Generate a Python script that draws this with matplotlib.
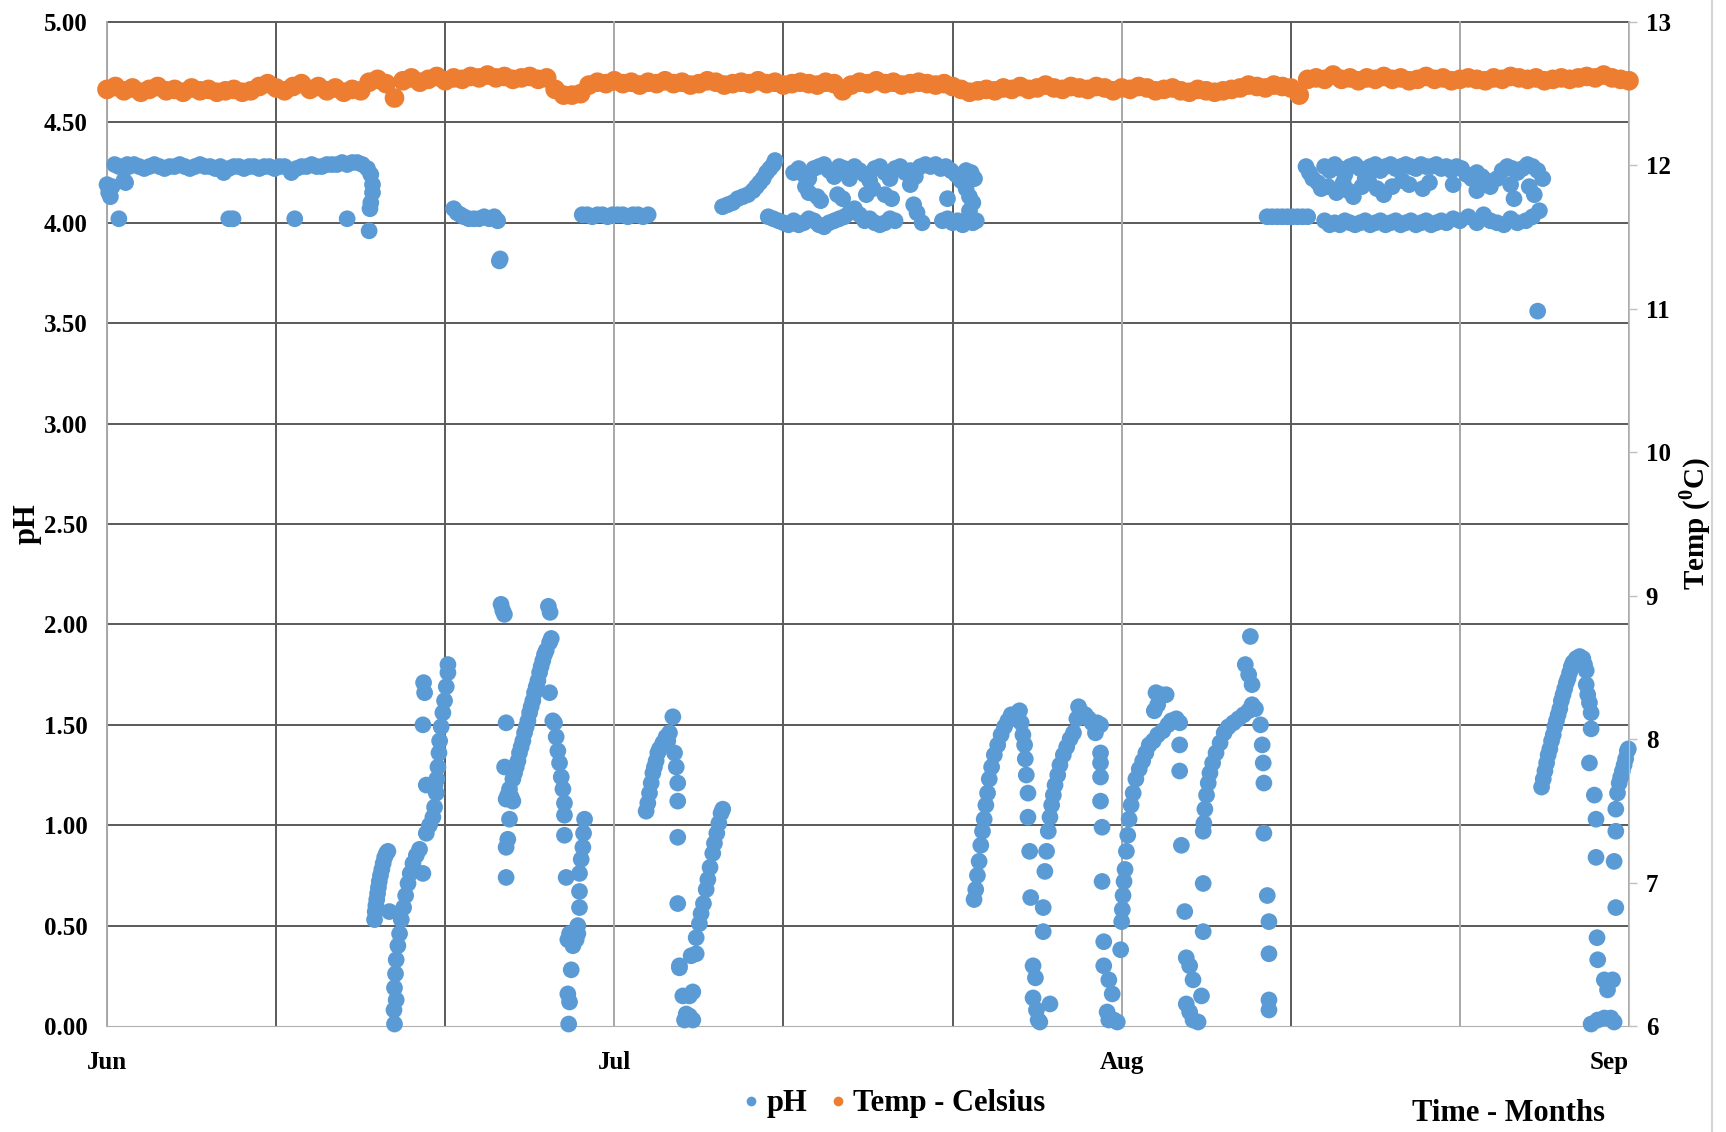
import numpy as np
import matplotlib
matplotlib.use('Agg')
import matplotlib.pyplot as plt
from matplotlib.lines import Line2D

plt.rcParams['font.family'] = ['Liberation Serif', 'DejaVu Serif']
plt.rcParams['font.weight'] = 'bold'
plt.rcParams['mathtext.fontset'] = 'custom'
plt.rcParams['mathtext.rm'] = 'Liberation Serif:bold'
plt.rcParams['mathtext.bf'] = 'Liberation Serif:bold'

# x axis: days since 1 June
month_days = [0, 30, 60, 90]
month_labels = ['Jun', 'Jul', 'Aug', 'Sep']

# temperature logger, one reading every half day
temp_step_days = 0.5
temp_c = [
    12.53, 12.55, 12.52, 12.54, 12.51, 12.53, 12.55, 12.52, 12.53, 12.51,
    12.54, 12.52, 12.53, 12.51, 12.52, 12.53, 12.51, 12.52, 12.55, 12.57,
    12.54, 12.52, 12.55, 12.57, 12.53, 12.55, 12.52, 12.54, 12.51, 12.53,
    12.52,
    12.58, 12.60, 12.57, 12.47, 12.59, 12.61, 12.58, 12.60, 12.62, 12.59,
    12.61, 12.60, 12.62, 12.61, 12.63, 12.61, 12.62, 12.60, 12.61, 12.62,
    12.60, 12.61, 12.53, 12.49, 12.49, 12.50,
    12.56, 12.58, 12.57, 12.59, 12.57, 12.58, 12.56, 12.58, 12.57, 12.59,
    12.57, 12.58, 12.56, 12.57, 12.59, 12.58, 12.56, 12.57, 12.58, 12.57,
    12.59, 12.57, 12.58, 12.56, 12.57, 12.58, 12.57, 12.56, 12.58, 12.57,
    12.52, 12.56, 12.58, 12.57, 12.59, 12.57, 12.58, 12.56, 12.57, 12.58,
    12.57, 12.56, 12.57, 12.55, 12.53,
    12.51, 12.52, 12.53, 12.52, 12.54, 12.53, 12.55, 12.53, 12.54, 12.56,
    12.54, 12.53, 12.55, 12.54, 12.53, 12.55, 12.54, 12.52, 12.54, 12.53,
    12.55, 12.54, 12.52, 12.53, 12.54, 12.52, 12.51, 12.53, 12.52, 12.51,
    12.52, 12.53, 12.54, 12.56, 12.55, 12.54, 12.56, 12.55, 12.54, 12.49,
    12.60, 12.61, 12.60, 12.63, 12.60, 12.61, 12.59, 12.61, 12.60, 12.62,
    12.60, 12.61, 12.59, 12.60, 12.62, 12.60, 12.61, 12.59, 12.60, 12.61,
    12.60, 12.59, 12.61, 12.60, 12.62, 12.61, 12.60, 12.61, 12.59, 12.60,
    12.61, 12.60, 12.61, 12.62, 12.61, 12.63, 12.61, 12.60, 12.59,
]

# pH readings as (day, pH), grouped by stretch
ph_high_jun = [
    (0.0, 4.19), (0.1, 4.15), (0.2, 4.13), (0.3, 4.18), (0.45, 4.29), (0.7, 4.28),
    (1.0, 4.21), (1.1, 4.20), (1.0, 4.28), (1.2, 4.29), (1.3, 4.28), (1.6, 4.29),
    (1.9, 4.28), (2.2, 4.27), (2.5, 4.28), (2.8, 4.29), (3.1, 4.28), (3.4, 4.27),
    (3.7, 4.28), (4.0, 4.28), (4.3, 4.29), (4.6, 4.28), (4.9, 4.27), (5.2, 4.28),
    (5.5, 4.29), (5.8, 4.28), (6.1, 4.28), (6.4, 4.27), (6.7, 4.28), (6.9, 4.25),
    (7.2, 4.27), (7.5, 4.28), (7.8, 4.28), (8.1, 4.27), (8.4, 4.28), (8.7, 4.28),
    (9.0, 4.27), (9.3, 4.28), (9.6, 4.28), (9.9, 4.27), (10.2, 4.28), (10.5, 4.28),
    (10.9, 4.25), (11.2, 4.27), (11.5, 4.28), (11.8, 4.28), (12.1, 4.29), (12.4, 4.28),
    (12.7, 4.28), (13.0, 4.29), (13.3, 4.29), (13.6, 4.29), (13.9, 4.30), (14.2, 4.29),
    (14.5, 4.30), (14.8, 4.30), (15.1, 4.29), (15.4, 4.27),
    (15.6, 4.24), (15.7, 4.19), (15.7, 4.15), (15.6, 4.10), (15.55, 4.07), (15.5, 3.96),
    (0.7, 4.02), (7.2, 4.02), (7.45, 4.02), (11.1, 4.02), (14.2, 4.02),
    (20.5, 4.07), (20.7, 4.05), (20.9, 4.04), (21.1, 4.03), (21.4, 4.02), (21.7, 4.02),
    (22.0, 4.02), (22.3, 4.03), (22.6, 4.02), (22.9, 4.03), (23.1, 4.01),
    (23.2, 3.81), (23.25, 3.82),
    (28.1, 4.04), (28.4, 4.04), (28.7, 4.03), (29.0, 4.04), (29.3, 4.04), (29.6, 4.03),
    (29.9, 4.04), (30.2, 4.04), (30.5, 4.04), (30.8, 4.03), (31.1, 4.04), (31.4, 4.04),
    (31.7, 4.03), (32.0, 4.04),
]

ph_high_jul = [
    (36.4, 4.08), (36.7, 4.09), (37.0, 4.10), (37.3, 4.12), (37.6, 4.13), (37.9, 4.14),
    (38.2, 4.16), (38.4, 4.18), (38.6, 4.20), (38.8, 4.22), (39.0, 4.25), (39.2, 4.27),
    (39.4, 4.29), (39.5, 4.31),
    (40.6, 4.25), (40.9, 4.27), (41.2, 4.24), (41.5, 4.22), (41.8, 4.27), (42.1, 4.28),
    (42.4, 4.29), (42.7, 4.26), (43.0, 4.23), (43.3, 4.28), (43.6, 4.27), (43.9, 4.22),
    (44.2, 4.28), (44.5, 4.26), (44.8, 4.24), (45.1, 4.21), (45.4, 4.27), (45.7, 4.28),
    (46.0, 4.25), (46.3, 4.22), (46.6, 4.27), (46.9, 4.28), (47.2, 4.25), (47.5, 4.26),
    (47.8, 4.23), (48.1, 4.28), (48.4, 4.29), (48.7, 4.28), (49.0, 4.29), (49.3, 4.27),
    (49.6, 4.28), (49.9, 4.26), (50.2, 4.24), (50.5, 4.21), (50.8, 4.26), (51.1, 4.25),
    (51.3, 4.22),
    (41.3, 4.18), (41.5, 4.15), (42.0, 4.13), (42.2, 4.11), (43.2, 4.14), (43.5, 4.12),
    (44.9, 4.14), (45.3, 4.17), (46.0, 4.14), (46.4, 4.12), (47.5, 4.19), (49.7, 4.12),
    (50.8, 4.17), (51.0, 4.13), (51.2, 4.10), (51.0, 4.06),
    (39.1, 4.03), (39.4, 4.02), (39.7, 4.01), (40.0, 4.00), (40.3, 3.99), (40.6, 4.01),
    (40.9, 3.99), (41.2, 4.00), (41.5, 4.02), (41.8, 4.01), (42.1, 3.99), (42.4, 3.98),
    (42.7, 4.00), (43.0, 4.01), (43.3, 4.02), (43.6, 4.03), (43.9, 4.05), (44.2, 4.07),
    (44.5, 4.04), (44.8, 4.01), (45.1, 4.02), (45.4, 4.00), (45.7, 3.99), (46.0, 4.00),
    (46.3, 4.02), (46.6, 4.01), (47.7, 4.09), (47.9, 4.05), (48.2, 4.00),
    (49.4, 4.01), (49.7, 4.02), (50.0, 4.00), (50.3, 4.01), (50.6, 3.99), (50.9, 4.02),
    (51.2, 4.00), (51.4, 4.01),
]

ph_high_aug = [
    (68.6, 4.03), (68.9, 4.03), (69.2, 4.03), (69.5, 4.03), (69.8, 4.03), (70.1, 4.03),
    (70.4, 4.03), (70.7, 4.03), (71.0, 4.03),
    (70.9, 4.28), (71.1, 4.25), (71.3, 4.22), (71.6, 4.20), (71.8, 4.17),
    (72.0, 4.28), (72.3, 4.26), (72.6, 4.29), (72.9, 4.27), (73.2, 4.24), (73.5, 4.28),
    (73.8, 4.29), (74.1, 4.27), (74.4, 4.22), (74.7, 4.28), (75.0, 4.29), (75.3, 4.26),
    (75.6, 4.28), (75.9, 4.29), (76.2, 4.27), (76.5, 4.28), (76.8, 4.29), (77.1, 4.28),
    (77.4, 4.27), (77.7, 4.29), (78.0, 4.28), (78.3, 4.28), (78.6, 4.29), (78.9, 4.27),
    (79.2, 4.28), (79.5, 4.26), (79.8, 4.28), (80.1, 4.27), (80.4, 4.24), (80.7, 4.22),
    (81.0, 4.25), (81.3, 4.23), (81.6, 4.21), (82.2, 4.22), (82.5, 4.26), (82.8, 4.28),
    (83.1, 4.27), (83.4, 4.25), (83.7, 4.27), (84.0, 4.29), (84.3, 4.28), (84.6, 4.26),
    (84.9, 4.22),
    (72.2, 4.18), (72.7, 4.15), (73.1, 4.20), (73.4, 4.16), (73.7, 4.13), (74.2, 4.18),
    (74.6, 4.21), (75.1, 4.17), (75.5, 4.14), (76.0, 4.18), (76.6, 4.21), (77.0, 4.19),
    (77.8, 4.17), (78.2, 4.20), (79.6, 4.19), (81.0, 4.16), (81.8, 4.18), (83.0, 4.19),
    (83.2, 4.12), (84.1, 4.18), (84.4, 4.14),
    (72.0, 4.01), (72.3, 3.99), (72.6, 4.00), (72.9, 3.99), (73.2, 4.01), (73.5, 4.00),
    (73.8, 3.99), (74.1, 4.00), (74.4, 4.01), (74.7, 3.99), (75.0, 4.00), (75.3, 4.01),
    (75.6, 3.99), (75.9, 4.00), (76.2, 4.01), (76.5, 3.99), (76.8, 4.00), (77.1, 4.01),
    (77.4, 3.99), (77.7, 4.00), (78.0, 4.01), (78.3, 3.99), (78.6, 4.00), (78.9, 4.01),
    (79.2, 4.00), (79.6, 4.02), (80.0, 4.01), (80.5, 4.03), (81.0, 4.00), (81.4, 4.04),
    (81.8, 4.01), (82.2, 4.00), (82.6, 3.99), (83.0, 4.02), (83.4, 4.00), (83.9, 4.01),
    (84.3, 4.03), (84.7, 4.06),
    (84.6, 3.56),
]

ph_low_jun = [
    # first short rise
    (15.82, 0.53), (15.86, 0.57), (15.9, 0.60), (15.95, 0.63), (16.0, 0.66), (16.05, 0.69),
    (16.1, 0.72), (16.17, 0.75), (16.25, 0.78), (16.33, 0.81), (16.42, 0.84), (16.52, 0.86),
    (16.61, 0.87), (16.7, 0.57),
    # rise to 1.8
    (17.0, 0.01), (16.97, 0.08), (17.1, 0.13), (17.0, 0.19), (17.06, 0.26), (17.1, 0.33),
    (17.2, 0.40), (17.3, 0.46), (17.4, 0.53), (17.54, 0.59), (17.66, 0.65), (17.8, 0.71),
    (17.93, 0.76), (18.09, 0.81), (18.29, 0.85), (18.48, 0.88), (18.68, 0.76), (18.88, 0.96),
    (19.07, 1.00), (19.27, 1.04), (19.37, 1.09), (19.47, 1.16), (19.5, 1.23), (19.57, 1.29),
    (19.63, 1.36), (19.67, 1.42), (19.76, 1.49), (19.86, 1.56), (19.96, 1.62), (20.06, 1.69),
    (20.16, 1.76), (20.16, 1.80),
    (18.72, 1.71), (18.78, 1.66), (18.68, 1.50), (18.88, 1.20), (19.4, 1.20),
    # rise to 1.9 and fall
    (23.3, 2.10), (23.4, 2.07), (23.5, 2.05), (26.1, 2.09), (26.2, 2.06),
    (23.6, 1.13), (23.7, 1.15), (23.8, 1.18), (24.0, 1.23), (24.1, 1.26), (24.2, 1.29),
    (24.3, 1.32), (24.39, 1.36), (24.49, 1.39), (24.59, 1.42), (24.69, 1.46), (24.79, 1.49),
    (24.89, 1.52), (24.99, 1.56), (25.08, 1.59), (25.18, 1.62), (25.28, 1.66), (25.38, 1.69),
    (25.48, 1.72), (25.58, 1.76), (25.67, 1.79), (25.77, 1.82), (25.87, 1.85), (25.97, 1.87),
    (26.17, 1.91), (26.27, 1.93), (23.9, 1.14), (24.0, 1.12),
    (23.6, 1.51), (23.51, 1.29), (23.8, 1.03), (23.7, 0.93), (23.6, 0.89), (23.6, 0.74),
    (26.17, 1.66), (26.36, 1.52), (26.46, 1.51), (26.56, 1.44), (26.66, 1.37), (26.76, 1.31),
    (26.86, 1.24), (26.96, 1.18), (27.05, 1.11), (27.05, 1.05), (27.05, 0.95), (27.15, 0.74),
    (27.25, 0.43), (27.35, 0.46), (27.45, 0.28), (27.25, 0.16), (27.35, 0.12), (27.3, 0.01),
    (27.55, 0.40), (27.74, 0.43), (27.84, 0.46), (27.84, 0.50), (27.94, 0.59), (27.94, 0.67),
    (27.94, 0.76), (28.04, 0.83), (28.14, 0.89), (28.18, 0.96), (28.24, 1.03),
]

ph_low_jul = [
    (31.88, 1.07), (31.98, 1.11), (32.08, 1.16), (32.18, 1.21), (32.28, 1.26), (32.37, 1.29),
    (32.47, 1.32), (32.57, 1.36), (32.67, 1.38), (32.87, 1.41), (33.06, 1.44), (33.16, 1.42),
    (33.26, 1.46), (33.46, 1.54),
    (33.56, 1.36), (33.66, 1.29), (33.75, 1.21), (33.75, 1.12), (33.75, 0.94), (33.75, 0.61),
    (33.85, 0.30), (34.05, 0.15), (34.25, 0.06), (34.15, 0.03), (34.44, 0.05), (34.64, 0.03),
    (33.85, 0.29), (34.54, 0.35), (34.84, 0.36), (34.44, 0.15), (34.64, 0.17), (34.84, 0.44),
    (35.03, 0.51), (35.13, 0.56), (35.27, 0.61), (35.43, 0.68), (35.53, 0.73), (35.66, 0.79),
    (35.82, 0.86), (35.92, 0.91), (36.06, 0.96), (36.18, 1.01), (36.31, 1.06), (36.41, 1.08),
]

ph_low_aug = [
    (51.27, 0.63), (51.37, 0.68), (51.47, 0.75), (51.57, 0.82), (51.67, 0.90), (51.77, 0.97),
    (51.87, 1.03), (51.97, 1.10), (52.07, 1.16), (52.17, 1.23), (52.31, 1.29), (52.47, 1.35),
    (52.67, 1.40), (52.87, 1.45), (53.07, 1.49), (53.27, 1.52), (53.47, 1.55), (53.67, 1.55),
    (53.86, 1.56), (53.96, 1.57),
    (54.06, 1.51), (54.16, 1.45), (54.26, 1.40), (54.3, 1.33), (54.36, 1.25), (54.46, 1.16),
    (54.46, 1.04), (54.56, 0.87), (54.62, 0.64), (54.76, 0.30), (54.9, 0.24), (54.76, 0.14),
    (54.96, 0.08), (55.06, 0.03), (55.16, 0.02), (55.76, 0.11),
    (55.36, 0.59), (55.36, 0.47), (55.46, 0.77), (55.56, 0.87), (55.66, 0.97), (55.76, 1.04),
    (55.86, 1.10), (55.96, 1.15), (56.06, 1.20), (56.22, 1.25), (56.35, 1.30), (56.55, 1.35),
    (56.75, 1.39), (56.95, 1.43), (57.15, 1.46), (57.35, 1.53), (57.45, 1.59), (57.65, 1.56),
    (57.85, 1.55), (58.05, 1.53), (58.25, 1.51), (58.55, 1.51), (58.75, 1.50), (58.45, 1.46),
    (58.75, 1.36), (58.75, 1.31), (58.75, 1.24), (58.75, 1.12), (58.84, 0.99), (58.84, 0.72),
    (58.94, 0.42), (58.94, 0.30), (59.24, 0.23), (59.44, 0.16), (59.14, 0.07), (59.24, 0.03),
    (59.54, 0.03), (59.74, 0.02),
    (59.94, 0.38), (60.0, 0.52), (60.04, 0.58), (60.08, 0.65), (60.14, 0.72), (60.2, 0.78),
    (60.28, 0.87), (60.36, 0.95), (60.44, 1.03), (60.56, 1.10), (60.68, 1.16), (60.84, 1.23),
    (61.04, 1.28), (61.24, 1.32), (61.43, 1.36), (61.63, 1.40), (61.87, 1.42), (62.13, 1.45),
    (62.43, 1.47), (62.73, 1.50), (62.93, 1.52),
    (62.03, 1.66), (62.33, 1.65), (62.63, 1.65), (61.93, 1.57), (62.13, 1.60),
    (63.23, 1.53), (63.43, 1.51), (63.43, 1.40), (63.43, 1.27), (63.53, 0.90), (63.73, 0.57),
    (63.82, 0.34), (64.02, 0.30), (64.22, 0.23), (63.82, 0.11), (64.02, 0.07), (64.22, 0.03),
    (64.52, 0.02), (64.72, 0.15), (64.82, 0.47), (64.82, 0.71),
    (64.82, 0.97), (64.86, 1.01), (64.92, 1.08), (65.02, 1.15), (65.12, 1.21), (65.22, 1.26),
    (65.38, 1.31), (65.58, 1.36), (65.82, 1.41), (66.06, 1.46), (66.31, 1.49), (66.61, 1.51),
    (66.91, 1.53), (67.21, 1.55), (67.51, 1.57), (67.71, 1.60), (67.91, 1.58),
    (67.61, 1.94), (67.31, 1.80), (67.51, 1.75), (67.71, 1.70),
    (68.21, 1.50), (68.31, 1.40), (68.37, 1.31), (68.41, 1.21), (68.41, 0.96), (68.61, 0.65),
    (68.71, 0.52), (68.71, 0.36), (68.71, 0.13), (68.71, 0.08),
]

ph_low_sep = [
    (84.83, 1.19), (84.93, 1.23), (85.03, 1.27), (85.13, 1.31), (85.22, 1.35), (85.32, 1.38),
    (85.42, 1.42), (85.52, 1.45), (85.61, 1.49), (85.71, 1.52), (85.81, 1.55), (85.91, 1.58),
    (86.0, 1.62), (86.1, 1.65), (86.2, 1.68), (86.3, 1.71), (86.39, 1.73), (86.49, 1.76),
    (86.59, 1.79), (86.69, 1.81), (86.88, 1.83), (87.08, 1.84), (87.27, 1.83), (87.37, 1.80),
    (87.47, 1.77), (87.47, 1.70), (87.56, 1.65), (87.66, 1.61), (87.76, 1.56), (87.76, 1.48),
    (87.66, 1.31), (87.95, 1.15), (88.05, 1.03), (88.05, 0.84), (88.11, 0.44), (88.15, 0.33),
    (88.54, 0.23), (88.73, 0.18), (89.03, 0.23), (87.76, 0.01), (88.15, 0.03), (88.54, 0.04),
    (88.93, 0.04), (89.12, 0.02),
    (89.22, 0.59), (89.12, 0.82), (89.22, 0.97), (89.22, 1.08), (89.32, 1.16), (89.42, 1.21),
    (89.51, 1.24), (89.61, 1.27), (89.71, 1.30), (89.8, 1.33), (89.9, 1.37), (89.96, 1.38),
]

PH_COLOR = '#5b9bd5'
TEMP_COLOR = '#ed7d31'
DARK_GRID = '#5a5a5a'
LIGHT_GRID = '#a8a8a8'

ph_points = np.array(ph_high_jun + ph_high_jul + ph_high_aug
                     + ph_low_jun + ph_low_jul + ph_low_aug + ph_low_sep)
temp_days = np.arange(len(temp_c)) * temp_step_days

fig = plt.figure(figsize=(17.26, 11.32), dpi=100)
ax = fig.add_axes([0.0620, 0.0936, 0.8818, 0.8870])
ax2 = ax.twinx()

# grid: horizontal all dark, vertical alternating dark / light
for v in np.arange(0.5, 5.01, 0.5):
    ax.axhline(v, color=DARK_GRID, lw=1.4, zorder=0, clip_on=False)
grid_cols = [LIGHT_GRID, DARK_GRID, DARK_GRID, LIGHT_GRID, DARK_GRID,
             DARK_GRID, LIGHT_GRID, DARK_GRID, LIGHT_GRID, LIGHT_GRID]
for i, c in enumerate(grid_cols):
    ax.axvline(i * 10, color=c, lw=1.4, zorder=0, clip_on=False)

ax.scatter(ph_points[:, 0], ph_points[:, 1], s=145, color=PH_COLOR,
           edgecolors='none', zorder=3, clip_on=False)
ax2.scatter(temp_days, temp_c, s=200, color=TEMP_COLOR,
            edgecolors='none', zorder=3, clip_on=False)

ax.set_xlim(0, 90)
ax.set_ylim(0, 5)
ax2.set_ylim(6, 13)

ax.set_yticks(np.arange(0, 5.01, 0.5))
ax.yaxis.set_major_formatter('{x:.2f}')
ax.set_xticks(month_days, month_labels)
ax.get_xticklabels()[-1].set_ha('right')
ax.tick_params(axis='y', length=0, pad=14, labelsize=18)
ax.tick_params(axis='x', length=0, pad=18, labelsize=18)
ax2.set_yticks(range(6, 14))
ax2.tick_params(axis='y', length=6, width=1, color='#c0c0c0', pad=6, labelsize=18)

for s in ['top', 'right']:
    ax.spines[s].set_visible(False)
for s in ['top', 'left', 'bottom']:
    ax2.spines[s].set_visible(False)
ax.spines['left'].set_color(LIGHT_GRID)
ax.spines['bottom'].set_color('#b0b0b0')
ax2.spines['right'].set_color('#c0c0c0')

ax.set_ylabel('pH', fontsize=22, fontweight='bold')
ax.yaxis.set_label_coords(-0.043, 0.5)
ax2.set_ylabel(r'Temp ($^{0}$C)', fontsize=21, fontweight='bold')
ax2.yaxis.set_label_coords(1.032, 0.5)

handles = [Line2D([], [], ls='none', marker='o', markersize=7, color=PH_COLOR, markeredgewidth=0),
           Line2D([], [], ls='none', marker='o', markersize=7, color=TEMP_COLOR, markeredgewidth=0)]
fig.legend(handles, ['pH', 'Temp - Celsius'], loc='center', bbox_to_anchor=(0.517, 0.025),
           ncol=2, frameon=False, fontsize=22, handletextpad=0.1, columnspacing=0.6,
           handlelength=0.8)
fig.text(0.874, 0.016, 'Time - Months', ha='center', va='center', fontsize=22)

# outer chart frame line on the right
fig.add_artist(Line2D([0.992, 0.992], [0, 1], transform=fig.transFigure,
                      color='#d4d4d4', lw=1.5))

fig.savefig('out.png', dpi=100)
